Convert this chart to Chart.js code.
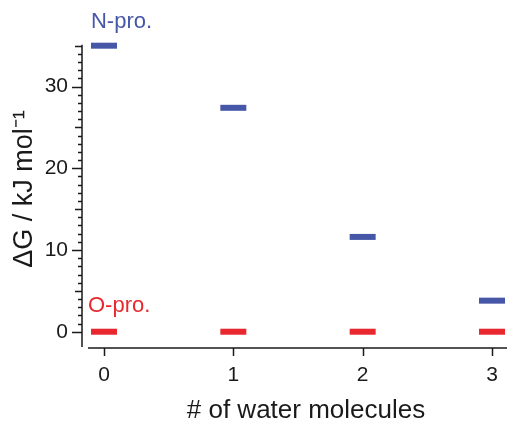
<!DOCTYPE html>
<html>
<head>
<meta charset="utf-8">
<script src="https://cdn.jsdelivr.net/npm/chart.js@4"></script>
<style>
  html, body { margin: 0; padding: 0; background: #fff; overflow: hidden; }
  #wrap { width: 507px; height: 424px; }
  canvas { display: block; }
</style>
</head>
<body>
<div id="wrap"><canvas id="dgChart" width="507" height="424"></canvas></div>
<script>
// nombre de molécules d'eau
var waters = [0, 1, 2, 3];
// ΔG (kJ/mol)
var nPro = [35.0, 27.4, 11.6, 3.8];
var oPro = [0, 0, 0, 0];
var seriesNames = ['N-pro.', 'O-pro.'];
var seriesColors = ['#4757a8', '#e8282e'];
var yTickLabels = [0, 10, 20, 30];
var xTitle = '# of water molecules';
var yTitle = 'ΔG / kJ mol⁻¹';

var FONT = '"Liberation Sans", Arial, sans-serif';
var INK = '#1a1a1a';

function pts(vals) {
    return vals.map(function (v, i) { return { x: waters[i], y: v }; });
}

// axes façon Igor : lignes séparées + petites graduations
var axesPlugin = {
    id: 'igorAxes',
    afterDraw: function (chart) {
        var ctx = chart.ctx;
        var xs = chart.scales.x, ys = chart.scales.y;
        var area = chart.chartArea;
        ctx.save();
        ctx.strokeStyle = INK;
        ctx.lineWidth = 1.5;

        // axe y
        var ax = area.left;
        ctx.beginPath();
        ctx.moveTo(ax, ys.getPixelForValue(35) - 1);
        ctx.lineTo(ax, area.bottom);
        for (var v = 0; v <= 35; v++) {
            var len = (v % 10 === 0) ? 10 : (v % 5 === 0 ? 7 : 4);
            var py = Math.round(ys.getPixelForValue(v)) + 0.5;
            ctx.moveTo(ax, py);
            ctx.lineTo(ax - len, py);
        }
        ctx.stroke();

        // axe x
        var ay = area.bottom + 1;
        ctx.beginPath();
        ctx.moveTo(area.left + 6, ay);
        ctx.lineTo(area.right, ay);
        waters.forEach(function (w) {
            var px = Math.round(xs.getPixelForValue(w)) + 0.5;
            ctx.moveTo(px, ay);
            ctx.lineTo(px, ay + 8);
        });
        ctx.stroke();

        // titres des axes (placés comme sur la figure)
        ctx.fillStyle = INK;
        ctx.textBaseline = 'middle';
        ctx.textAlign = 'center';
        ctx.font = '26px ' + FONT;
        ctx.fillText(xTitle, 306, 411);
        ctx.save();
        ctx.translate(25, 189);
        ctx.rotate(-Math.PI / 2);
        ctx.font = '27px ' + FONT;
        ctx.fillText(yTitle, 0, 0);
        ctx.restore();

        // étiquettes des séries
        ctx.font = '22px ' + FONT;
        ctx.textAlign = 'left';
        var n0 = chart.getDatasetMeta(0).data[0];
        var o0 = chart.getDatasetMeta(1).data[0];
        ctx.fillStyle = seriesColors[0];
        ctx.fillText(seriesNames[0], n0.x - 13, n0.y - 24);
        ctx.fillStyle = seriesColors[1];
        ctx.fillText(seriesNames[1], o0.x - 16, o0.y - 26);
        ctx.restore();
    }
};

window.addEventListener('load', function () {
    var canvas = document.getElementById('dgChart');
    if (!canvas) return;

    var datasets = [nPro, oPro].map(function (vals, i) {
        return {
            label: seriesNames[i],
            data: pts(vals),
            pointStyle: 'line',
            pointRadius: 13,
            pointHoverRadius: 13,
            borderWidth: 6,
            pointBorderWidth: 6,
            borderColor: seriesColors[i],
            backgroundColor: seriesColors[i],
            showLine: false,
            clip: false
        };
    });

    new Chart(canvas.getContext('2d'), {
        type: 'scatter',
        data: { datasets: datasets },
        options: {
            responsive: false,
            animation: false,
            layout: { autoPadding: false, padding: { top: 43, right: 0, left: 0, bottom: 0 } },
            plugins: { legend: { display: false }, tooltip: { enabled: false } },
            events: [],
            scales: {
                x: {
                    type: 'linear',
                    min: -0.17,
                    max: 3.116,
                    grid: { display: true, drawOnChartArea: false, drawTicks: true, tickLength: 8, color: 'rgba(0,0,0,0)' },
                    border: { display: false },
                    ticks: { color: INK, padding: 8, font: { family: FONT, size: 21 }, maxRotation: 0 },
                    afterBuildTicks: function (s) { s.ticks = waters.map(function (w) { return { value: w }; }); },
                    afterFit: function (s) { s.height = 77; }
                },
                y: {
                    type: 'linear',
                    min: -1.87,
                    max: 35.33,
                    grid: { display: true, drawOnChartArea: false, drawTicks: true, tickLength: 10, color: 'rgba(0,0,0,0)' },
                    border: { display: false },
                    ticks: { color: INK, padding: 4, font: { family: FONT, size: 21 } },
                    afterBuildTicks: function (s) { s.ticks = yTickLabels.map(function (v) { return { value: v }; }); },
                    afterFit: function (s) { s.width = 82; }
                }
            }
        },
        plugins: [axesPlugin]
    });
});
</script>
</body>
</html>
